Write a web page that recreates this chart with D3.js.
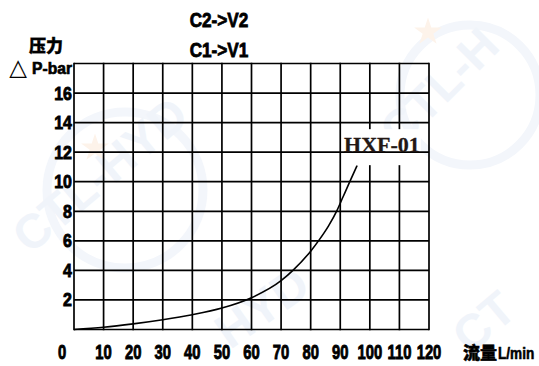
<!DOCTYPE html>
<html>
<head>
<meta charset="utf-8">
<script src="https://cdn.jsdelivr.net/npm/d3@7"></script>
<style>
  html, body { margin: 0; padding: 0; background: #fff; }
  svg { display: block; }
</style>
</head>
<body>
<svg id="chart" width="539" height="366"></svg>
<script>
// ---- data ----
const flow = [0, 10, 20, 30, 40, 50, 60, 70, 74, 80, 83, 86, 89, 91, 93, 95.7];
const pressure = [0, 0.15, 0.38, 0.66, 1.0, 1.45, 2.15, 3.3, 4.0, 5.3, 6.1, 7.0, 8.1, 9.0, 9.9, 11.1];
const xTicks = [0, 10, 20, 30, 40, 50, 60, 70, 80, 90, 100, 110, 120];
const yTicks = [2, 4, 6, 8, 10, 12, 14, 16];
const yGrid = [0, 2, 4, 6, 8, 10, 12, 14, 16, 18];
const titleLines = ["C2->V2", "C1->V1"];
const yTitle = ["压力", "P-bar"];
const xTitle = ["流量", "L/min"];
const seriesName = "HXF-01";
const watermark = "CTL-HYD";

// ---- layout ----
const svg = d3.select("#chart");
const pLeft = 74, pRight = 429, pTop = 63.5, pBottom = 329.5;
const x = d3.scaleLinear().domain([0, 120]).range([pLeft, pRight]);
const y = d3.scaleLinear().domain([0, 18]).range([pBottom, pTop]);
const numFont = "'Liberation Sans', Arial, sans-serif";
const cjkFont = "'Noto Sans CJK SC', 'Noto Sans', sans-serif";

svg.append("rect").attr("width", 539).attr("height", 366).attr("fill", "#fff");

// faint watermark
const wmc = svg.append("g").attr("fill", "none").attr("stroke", "#f3f6fb").attr("stroke-width", 9);
wmc.append("circle").attr("cx", 125).attr("cy", 190).attr("r", 78);
wmc.append("circle").attr("cx", 470).attr("cy", 95).attr("r", 70);
const wm = svg.append("g").attr("fill", "#f0f4fa").attr("font-family", "'Liberation Sans', Arial, sans-serif")
  .attr("font-weight", "bold").attr("font-size", 48);
wm.append("text").attr("transform", "translate(30,255) rotate(-40)").text(watermark);
wm.append("text").attr("transform", "translate(400,150) rotate(-45)").text("CTL-H");
wm.append("text").attr("transform", "translate(230,350) rotate(-35)").text("HYD");
wm.append("text").attr("transform", "translate(470,355) rotate(-40)").text("CT");
const star = d3.symbol().type(d3.symbolStar).size(240);
svg.append("path").attr("d", star()).attr("fill", "#fdf3ea").attr("transform", "translate(95,148)");
svg.append("path").attr("d", star()).attr("fill", "#fdf3ea").attr("transform", "translate(428,32)");

// grid: vertical lines
const grid = svg.append("g").attr("stroke", "#000").attr("stroke-width", 1.7);
grid.selectAll("line.v").data(xTicks).join("line").attr("class", "v")
  .attr("x1", d => x(d)).attr("x2", d => x(d)).attr("y1", y(18) - 0.8).attr("y2", y(0) + 0.8);

// curve
const line = d3.line().x((d, i) => x(flow[i])).y(d => y(d)).curve(d3.curveMonotoneX);
svg.append("path").attr("d", line(pressure)).attr("fill", "none").attr("stroke", "#000").attr("stroke-width", 1.6);

// series label with white box
const lastI = flow.length - 1;
const lbl = svg.append("text")
  .attr("x", x(flow[lastI]) - 13).attr("y", y(12))
  .attr("font-family", "'Liberation Serif', 'Times New Roman', serif").attr("font-weight", "bold")
  .attr("font-size", 22).attr("fill", "#231815").attr("stroke", "#231815").attr("stroke-width", 0.3).text(seriesName);
const bb = lbl.node().getBBox();
svg.insert("rect", () => lbl.node()).attr("x", bb.x - 2).attr("y", bb.y - 3).attr("width", bb.width + 3)
  .attr("height", bb.height + 11).attr("fill", "#fff");

// grid: horizontal lines
const hgrid = svg.append("g").attr("stroke", "#000").attr("stroke-width", 1.7);
hgrid.selectAll("line.h").data(yGrid).join("line").attr("class", "h")
  .attr("x1", x(0)).attr("x2", x(120)).attr("y1", d => y(d)).attr("y2", d => y(d));
lbl.raise();

// condensed bold text helper (horizontal squeeze via transform)
function boldText(g, size, k, sw) {
  return g.attr("font-family", numFont).attr("font-weight", "bold").attr("font-size", size)
    .attr("fill", "#000").attr("stroke", "#000").attr("stroke-width", sw)
    .attr("data-k", k);
}

// y tick labels
boldText(svg.append("g").selectAll("text").data(yTicks).join("text"), 19, 0.84, 0.9)
  .attr("text-anchor", "end")
  .attr("transform", d => `translate(${x(0) - 2},${y(d) + 6.5}) scale(0.84,1)`)
  .text(d => d);

// x tick labels
boldText(svg.append("g").selectAll("text").data(xTicks).join("text"), 20, 0.74, 0.9)
  .attr("text-anchor", "middle")
  .attr("transform", d => `translate(${d === 0 ? x(d) - 12 : x(d)},359) scale(0.74,1)`)
  .text(d => d);

// titles
boldText(svg.append("g").selectAll("text").data(titleLines).join("text"), 19.5, 0.88, 0.8)
  .attr("text-anchor", "middle")
  .attr("transform", (d, i) => `translate(219,${27 + i * 30}) scale(0.88,1)`)
  .text(d => d);

// y axis title
svg.append("text").attr("x", 46).attr("y", 52).attr("text-anchor", "middle")
  .attr("font-family", cjkFont).attr("font-weight", 900).attr("font-size", 17).attr("fill", "#000")
  .attr("stroke", "#000").attr("stroke-width", 0.4).text(yTitle[0]);
svg.append("text").attr("x", 18).attr("y", 75).attr("text-anchor", "middle")
  .attr("font-family", "'DejaVu Sans', sans-serif").attr("font-size", 23).attr("fill", "#000").text("△");
boldText(svg.append("text"), 17, 0.92, 0.7)
  .attr("text-anchor", "end").attr("transform", "translate(72,74) scale(0.92,1)")
  .text(yTitle[1]);

// x axis title
svg.append("text").attr("x", 463).attr("y", 359)
  .attr("font-family", cjkFont).attr("font-weight", 900).attr("font-size", 17).attr("fill", "#000")
  .attr("stroke", "#000").attr("stroke-width", 0.5).text(xTitle[0]);
boldText(svg.append("text"), 17, 0.8, 0.6)
  .attr("transform", "translate(498,359) scale(0.8,1)")
  .text(xTitle[1]);
</script>
</body>
</html>
